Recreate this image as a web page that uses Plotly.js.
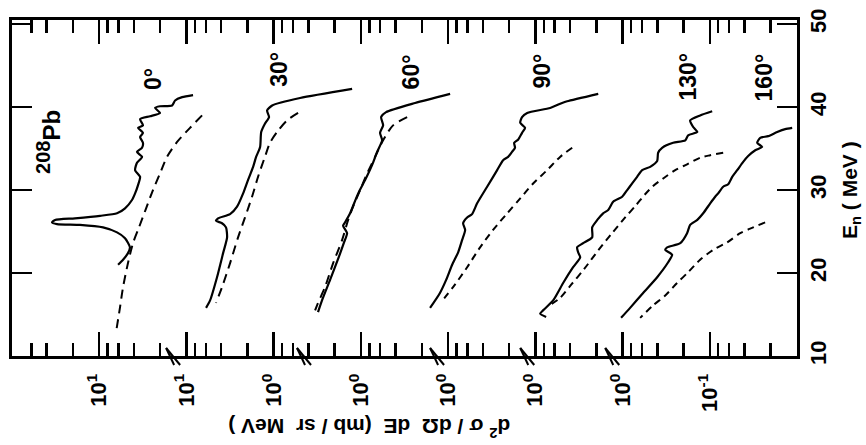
<!DOCTYPE html>
<html><head><meta charset="utf-8">
<script src="https://cdn.plot.ly/plotly-3.0.1.min.js"></script>
<style>html,body{margin:0;padding:0;background:#fff}#chart{width:866px;height:445px}</style>
</head><body><div id="chart"></div>
<script>
// angles and the decade offsets each spectrum is displayed with
const angles = ['0°', '30°', '60°', '90°', '130°', '160°'];
const scaleFactors = [1, 1e-1, 1e-2, 1e-3, 1e-4, 1e-5];

// measured spectra (solid): E_n (MeV), d2sigma/dOmega dE (mb/sr MeV)
const E0s = [41.45,41.2,40.8,40.2,40.1,39.9,39.3,38.9,38.55,37.8,37.5,36.9,36.4,35.7,35.1,34.6,34.0,33.3,32.4,31.6,30.6,29.6,28.8,27.8,27.2,26.9,26.6,26.4,26.1,25.9,25.8,25.5,24.9,24.2,23.1,22.4,21.6,21.0];
const S0s = [0.84,1.12,1.35,1.46,2.01,2.29,2.01,2.61,3.40,3.15,3.59,3.15,3.40,3.15,3.23,3.69,3.23,3.69,3.88,3.40,3.59,3.88,4.21,5.06,6.25,9.79,19.0,32.1,34.8,30.5,16.6,9.04,6.25,5.06,4.44,4.68,5.33,6.08];
const E1s = [42.2,41.1,40.2,39.6,38.8,38.0,37.0,35.2,34.0,32.8,31.2,29.6,28.0,27.1,26.6,26.3,26.0,25.5,24.3,22.4,19.5,16.7,15.8];
const S1s = [0.126,0.498,1.04,1.19,1.13,1.26,1.39,1.43,1.59,1.72,1.97,2.24,2.63,3.16,4.34,4.58,3.91,3.52,3.42,3.80,4.46,5.36,5.96];
const E2s = [41.6,40.5,39.4,38.8,37.8,36.9,36.0,34.6,33.0,31.2,29.8,29.0,27.2,26.1,25.7,24.8,23.7,22.0,19.2,16.7,15.3];
const S2s = [0.0948,0.239,0.514,0.586,0.556,0.603,0.571,0.652,0.745,0.895,1.05,1.135,1.33,1.52,1.60,1.44,1.56,1.78,2.25,2.79,3.10];
const E3s = [41.6,40.7,40.5,39.9,39.3,38.8,38.1,37.5,36.9,36.1,35.7,35.1,34.6,34.0,33.6,32.4,30.4,28.4,27.1,26.7,26.0,25.2,24.0,22.5,21.0,19.2,17.6,15.8];
const S3s = [0.0190,0.0432,0.0493,0.0676,0.124,0.142,0.149,0.131,0.142,0.157,0.175,0.171,0.185,0.205,0.234,0.274,0.357,0.465,0.531,0.605,0.673,0.638,0.690,0.767,0.899,1.05,1.24,1.61];
const E4s = [39.5,39.0,38.4,37.6,37.0,36.6,36.0,35.7,35.1,34.5,33.5,32.8,32.4,31.6,30.8,30.0,29.2,28.6,27.6,27.2,26.4,25.5,24.3,23.6,23.1,22.5,21.9,20.7,18.8,16.7,15.5,15.1,14.7];
const S4s = [0.00938,0.0129,0.0168,0.0155,0.0139,0.0177,0.0191,0.0263,0.0352,0.0391,0.0401,0.0482,0.0596,0.0681,0.0776,0.0885,0.101,0.128,0.146,0.167,0.195,0.223,0.223,0.283,0.332,0.323,0.306,0.369,0.480,0.625,0.815,0.881,0.752];
const E5s = [37.5,37.35,37.0,36.5,36.3,35.7,35.2,34.8,34.1,33.4,32.4,31.6,30.7,30.4,29.6,29.2,28.4,27.2,26.4,25.8,24.8,23.6,23.1,22.8,22.2,21.3,19.5,17.6,15.8,14.6];
const S5s = [0.01135,0.01365,0.01687,0.0214,0.0264,0.0286,0.0251,0.0301,0.0363,0.0414,0.0485,0.0553,0.0615,0.0702,0.0802,0.0867,0.0989,0.119,0.139,0.168,0.182,0.218,0.308,0.324,0.270,0.300,0.401,0.581,0.819,1.04];

// calculated spectra (dashed)
const E0d = [39.0,37.5,35.8,34.0,32.0,30.0,27.8,25.5,23.6,21.2,18.3,15.9,12.9];
const S0d = [0.662,0.91,1.28,1.67,2.01,2.42,2.90,3.50,4.10,4.68,5.33,5.77,6.41];
const E1d = [39.3,38.4,37.0,35.7,34.0,31.6,29.2,26.7,24.3,21.2,18.3,16.4];
const S1d = [0.525,0.702,0.914,1.10,1.26,1.51,1.77,2.13,2.56,3.16,3.91,4.58];
const E2d = [38.8,37.8,36.0,34.0,32.0,30.0,28.0,26.4,24.0,21.2,18.3,16.4,15.5];
const S2d = [0.295,0.428,0.556,0.687,0.849,1.02,1.23,1.40,1.64,2.08,2.58,3.10,3.35];
const E3d = [35.1,34.0,32.4,30.8,29.0,27.2,25.2,23.1,20.7,18.3,16.5];
const S3d = [0.0378,0.052,0.0733,0.106,0.149,0.210,0.305,0.430,0.605,0.877,1.20];
const E4d = [34.5,34.2,33.9,33.1,32.4,31.4,30.5,29.5,28.2,26.7,24.8,22.7,20.5,18.6,17.0,16.0];
const S4d = [0.00702,0.00989,0.0129,0.0182,0.0249,0.0342,0.0446,0.0551,0.0698,0.0933,0.132,0.191,0.275,0.388,0.520,0.713];
const E5d = [26.1,25.5,24.8,23.7,22.8,21.6,20.1,18.8,17.3,16.1,14.6];
const S5d = [0.0232,0.0318,0.0448,0.0631,0.0914,0.129,0.177,0.237,0.324,0.446,0.628];

// axis ticks and labels
const decadeTicks = [1e1, 1e0, 1e-1, 1e-2, 1e-3, 1e-4, 1e-5, 1e-6];
const decadeLabels = ['10<sup>1</sup>','10<sup>1</sup>','10<sup>0</sup>','10<sup>0</sup>','10<sup>0</sup>','10<sup>0</sup>','10<sup>0</sup>','10<sup>-1</sup>'];
const minorMultipliers = [2, 4, 6, 8];
const energyTicks = [10, 20, 30, 40, 50];
const axisBreaks = [1.71, 0.054, 0.00161, 1.49e-4, 1.58e-5];

const solidE = [E0s,E1s,E2s,E3s,E4s,E5s], solidS = [S0s,S1s,S2s,S3s,S4s,S5s];
const dashE = [E0d,E1d,E2d,E3d,E4d,E5d], dashS = [S0d,S1d,S2d,S3d,S4d,S5d];

const traces = [];
for (let k = 0; k < angles.length; k++) {
  traces.push({x: solidS[k].map(v => v * scaleFactors[k]), y: solidE[k], mode: 'lines',
    name: angles[k] + ' exp', line: {color: '#000', width: 2.2, shape: 'spline', smoothing: 0.6}, hoverinfo: 'skip'});
  traces.push({x: dashS[k].map(v => v * scaleFactors[k]), y: dashE[k], mode: 'lines',
    name: angles[k] + ' calc', line: {color: '#000', width: 2, dash: k < 3 ? '9px,6px' : '7px,5px', shape: 'spline', smoothing: 0.8}, hoverinfo: 'skip'});
}

const minorVals = [];
for (let d = -7; d <= 1; d++) for (const m of minorMultipliers) { const v = m * Math.pow(10, d); if (v < 75) minorVals.push(v); }

const font = {family: 'Liberation Sans, Arial, sans-serif', color: '#000'};
const shapes = [];
for (const b of axisBreaks) {
  for (const off of [-3, 3]) {
    shapes.push({type: 'line', xref: 'x', yref: 'paper', xsizemode: 'pixel', ysizemode: 'pixel',
      xanchor: b, yanchor: 0, x0: off - 11, x1: off + 11, y0: 8, y1: -9,
      line: {color: '#000', width: 2}});
  }
}

const angleLabelPos = [[0.383, 43.4], [-1.062, 44.5], [-2.576, 44.2], [-4.078, 44.3], [-5.752, 43.7], [-6.624, 43.6]];
const annotations = angles.map((a, k) => ({text: a, xref: 'x', yref: 'y', x: angleLabelPos[k][0], y: angleLabelPos[k][1],
  showarrow: false, textangle: -90, font: Object.assign({size: 23, weight: 'bold'}, font)}));
annotations.push({text: '<sup><span style="font-size:20px">208</span></sup>Pb', xref: 'x', yref: 'y', x: 1.576, y: 35.8, showarrow: false, textangle: -90,
  font: Object.assign({size: 24, weight: 'bold'}, font)});
annotations.push({text: 'E<sub>n</sub> ( MeV )', xref: 'paper', yref: 'paper', x: 1, y: 0.494, xshift: 54,
  xanchor: 'center', yanchor: 'middle', showarrow: false,
  textangle: -90, font: Object.assign({size: 21, weight: 'bold'}, font)});
annotations.push({text: 'd<sup>2</sup> σ / dΩ  dE  (mb / sr  MeV )', xref: 'paper', yref: 'paper', x: 0.455, y: 0, yshift: -72,
  xanchor: 'center', yanchor: 'middle', showarrow: false, textangle: 180, font: Object.assign({size: 21, weight: 'bold'}, font)});

const layout = {
  width: 866, height: 445, margin: {l: 12, r: 69, t: 20, b: 89},
  paper_bgcolor: '#fff', plot_bgcolor: '#fff', showlegend: false,
  xaxis: {type: 'log', range: [2, -7], autorange: false, showgrid: false, zeroline: false,
    showline: true, linewidth: 3, linecolor: '#000', mirror: 'ticks',
    ticks: 'inside', ticklen: 24, tickwidth: 2.5, tickcolor: '#000',
    tickmode: 'array', tickvals: decadeTicks, ticktext: decadeLabels, tickangle: -90,
    ticklabelstandoff: 6, tickfont: Object.assign({size: 22, weight: 'bold'}, font),
    minor: {tickmode: 'array', tickvals: minorVals, ticks: 'inside', ticklen: 13, tickwidth: 2.5, tickcolor: '#000', showgrid: false}},
  yaxis: {range: [10, 50.5], autorange: false, side: 'right', showgrid: false, zeroline: false,
    showline: true, linewidth: 3, linecolor: '#000', mirror: 'ticks',
    ticks: 'inside', ticklen: 20, tickwidth: 2.5, tickcolor: '#000',
    tickmode: 'array', tickvals: energyTicks, tickangle: -90, ticklabelstandoff: 0,
    tickfont: Object.assign({size: 22, weight: 'bold'}, font)},
  shapes: shapes, annotations: annotations
};
Plotly.newPlot('chart', traces, layout, {displayModeBar: false, staticPlot: true});
</script></body></html>
